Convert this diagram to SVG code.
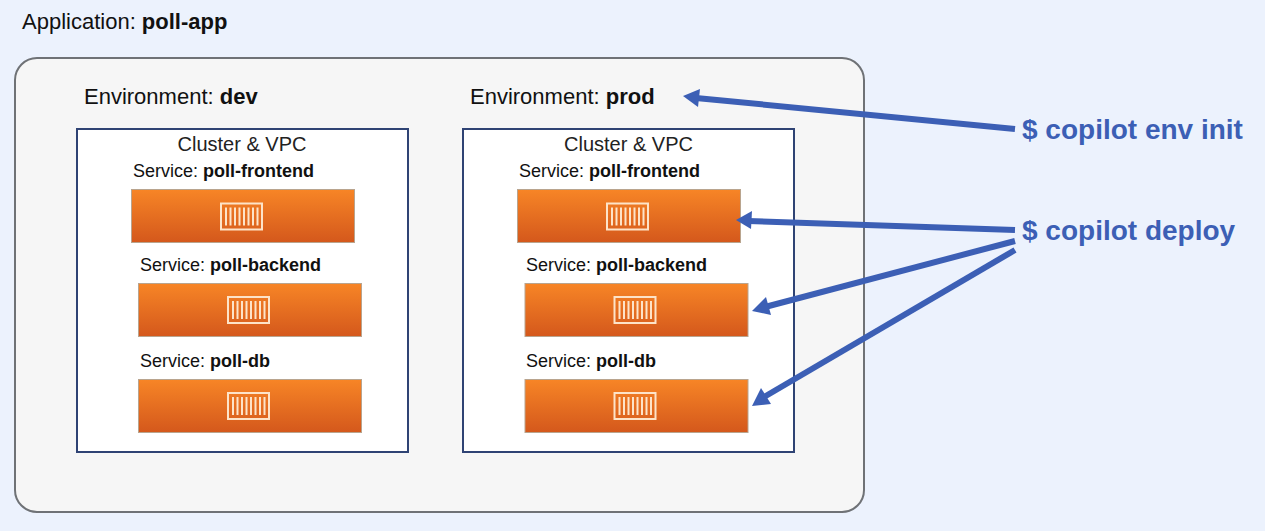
<svg xmlns="http://www.w3.org/2000/svg" width="1265" height="531" viewBox="0 0 1265 531">
<style>
text{font-family:"Liberation Sans",Arial,sans-serif;fill:#111}
.b{font-weight:700}
.env{font-size:22px}
.svc{font-size:18px}
.cl{font-size:20px;fill:#222}
.cmd{font-size:28px;font-weight:700;fill:#3c5fb5}
.vpc{fill:#fff;stroke:#2f4374;stroke-width:2}
.bar{fill:url(#og);stroke:#b9a48e;stroke-width:1}
.ic{fill:none;stroke:#fde3c8;stroke-width:2}
.arrow{stroke:#3c5fb5;stroke-width:6;fill:none}
.head{fill:#3c5fb5}
</style>
<defs>
<linearGradient id="og" x1="0" y1="0" x2="0" y2="1"><stop offset="0" stop-color="#f78526"/><stop offset="1" stop-color="#d4581c"/></linearGradient>
<g id="icon">
<rect class="ic" x="-20.500" y="-13" width="41" height="26"/>
<path class="ic" d="M-15.500-9V9M-11-9V9M-6.500-9V9M-2-9V9M2.500-9V9M7-9V9M11.500-9V9M16-9V9"/>
</g>
</defs>
<rect width="1265" height="531" fill="#ecf2fd"/>
<text x="22" y="29" class="env">Application: <tspan class="b">poll-app</tspan></text>
<g id="app"><rect x="15" y="58" width="849" height="454" rx="22" fill="#f6f6f6" stroke="#6f7276" stroke-width="2"/></g>
<g id="env-dev">
<text x="84" y="104" class="env">Environment: <tspan class="b">dev</tspan></text>
<rect class="vpc" x="77" y="129" width="331" height="323"/>
<text x="242" y="151" class="cl" text-anchor="middle">Cluster &amp; VPC</text>
</g>
<g id="env-prod">
<text x="470" y="104" class="env">Environment: <tspan class="b">prod</tspan></text>
<rect class="vpc" x="463" y="129" width="331" height="323"/>
<text x="628.500" y="151" class="cl" text-anchor="middle">Cluster &amp; VPC</text>
</g>
<g id="dev-frontend"><text x="133" y="177" class="svc">Service: <tspan class="b">poll-frontend</tspan></text><rect class="bar" x="131.500" y="189.500" width="223" height="53"/><use href="#icon" x="241.500" y="216.500"/></g>
<g id="dev-backend"><text x="140" y="271" class="svc">Service: <tspan class="b">poll-backend</tspan></text><rect class="bar" x="138.500" y="283.500" width="223" height="53"/><use href="#icon" x="248.500" y="310"/></g>
<g id="dev-db"><text x="140" y="367" class="svc">Service: <tspan class="b">poll-db</tspan></text><rect class="bar" x="138.500" y="379.500" width="223" height="53"/><use href="#icon" x="248.500" y="406"/></g>
<g id="prod-frontend"><text x="519" y="177" class="svc">Service: <tspan class="b">poll-frontend</tspan></text><rect class="bar" x="517.500" y="189.500" width="223" height="53"/><use href="#icon" x="627.500" y="216.500"/></g>
<g id="prod-backend"><text x="526" y="271" class="svc">Service: <tspan class="b">poll-backend</tspan></text><rect class="bar" x="525" y="283.500" width="223" height="53"/><use href="#icon" x="635" y="310"/></g>
<g id="prod-db"><text x="526" y="367" class="svc">Service: <tspan class="b">poll-db</tspan></text><rect class="bar" x="525" y="379.500" width="223" height="53"/><use href="#icon" x="635" y="406"/></g>
<g id="connectors">
<path class="arrow" d="M1015 129L696 98"/><polygon class="head" points="683,96 700,89 698,107"/>
<path class="arrow" d="M1015 230L748 221"/><polygon class="head" points="736,220 752,211 751,229"/>
<path class="arrow" d="M1015 241L765 307"/><polygon class="head" points="752,311 766,297 771,315"/>
<path class="arrow" d="M1015 250L764 397"/><polygon class="head" points="752,406 761,388 771,404"/>
</g>
<g id="commands">
<text x="1022" y="139" class="cmd">$ copilot env init</text>
<text x="1022" y="240" class="cmd">$ copilot deploy</text>
</g>
</svg>
